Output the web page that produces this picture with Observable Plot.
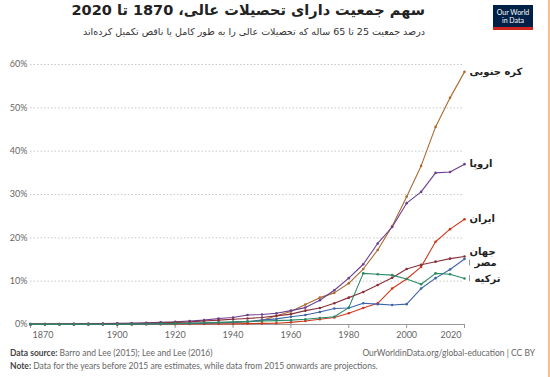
<!DOCTYPE html>
<html><head><meta charset="utf-8">
<script src="https://cdn.jsdelivr.net/npm/d3@7"></script>
<script src="https://cdn.jsdelivr.net/npm/@observablehq/plot@0.6"></script>
<style>
body{margin:0;width:550px;height:377px;background:#fff;position:relative;overflow:hidden;font-family:Lato,"DejaVu Sans",sans-serif;}
#title{position:absolute;top:2px;right:125px;direction:rtl;font-size:14.5px;font-weight:bold;color:#222;white-space:nowrap;font-family:"DejaVu Sans",sans-serif;}
#subtitle{position:absolute;top:26px;right:125px;direction:rtl;font-size:9.5px;color:#333;white-space:nowrap;font-family:"DejaVu Sans",sans-serif;}
#logo{position:absolute;left:493px;top:5px;width:40px;height:22px;background:#002147;border-bottom:3px solid #ce261e;color:#fff;font-size:7px;line-height:8px;text-align:center;box-sizing:content-box;display:flex;align-items:center;justify-content:center;font-family:Lato,sans-serif;}
#chart{position:absolute;top:48px;left:0;}
.foot{position:absolute;font-size:8.5px;color:#666;white-space:nowrap;}
.foot b{color:#444;font-weight:bold;}
#edge{position:absolute;left:548px;top:0;width:2px;height:377px;background:#f5c091;}
</style></head>
<body>
<div id="title">سهم جمعیت دارای تحصیلات عالی، 1870 تا 2020</div>
<div id="subtitle">درصد جمعیت 25 تا 65 ساله که تحصیلات عالی را به طور کامل یا ناقص تکمیل کرده‌اند</div>
<div id="logo">Our World<br>in Data</div>
<div id="chart"></div>
<div class="foot" style="left:10px;top:348px;"><b>Data source:</b> Barro and Lee (2015); Lee and Lee (2016)</div>
<div class="foot" style="right:15px;top:348px;">OurWorldinData.org/global-education | CC BY</div>
<div class="foot" style="left:10px;top:361px;"><b>Note:</b> Data for the years before 2015 are estimates, while data from 2015 onwards are projections.</div>
<div id="edge"></div>
<script>
const years = d3.range(1870, 2021, 5);
const korea  = [0.05,0.05,0.05,0.05,0.05,0.05,0.05,0.08,0.1,0.15,0.2,0.25,0.3,0.4,0.5,0.6,0.9,2.0,3.0,4.6,6.2,7.3,9.5,12.8,17.2,22.7,29.5,36.6,45.6,52.3,58.3];
const europe = [0.1,0.1,0.1,0.15,0.15,0.2,0.25,0.3,0.4,0.5,0.6,0.8,1.0,1.4,1.6,2.2,2.3,2.6,3.2,3.9,5.6,7.9,10.7,13.9,18.7,22.5,28.0,30.6,35.0,35.2,37.0];
const iran   = [0.02,0.02,0.02,0.02,0.02,0.02,0.02,0.03,0.05,0.05,0.08,0.1,0.1,0.15,0.15,0.2,0.25,0.3,0.5,0.8,1.2,1.6,2.6,3.8,4.9,8.3,10.5,13.3,19.1,22.0,24.3];
const world  = [0.1,0.1,0.1,0.12,0.14,0.16,0.2,0.25,0.3,0.4,0.5,0.6,0.8,1.0,1.2,1.4,1.6,2.0,2.4,3.2,3.8,4.9,6.2,7.5,9.1,10.8,12.8,13.8,14.5,15.2,15.7];
const egypt  = [0.03,0.03,0.03,0.03,0.04,0.05,0.05,0.08,0.1,0.15,0.2,0.25,0.3,0.4,0.5,0.7,1.0,1.3,1.8,2.2,2.9,3.7,3.8,4.9,4.7,4.5,4.7,8.3,10.7,12.7,15.1];
const turkey = [0.03,0.03,0.03,0.03,0.04,0.05,0.05,0.08,0.1,0.15,0.2,0.3,0.4,0.5,0.6,0.7,0.8,0.9,1.0,1.2,1.5,1.8,3.9,11.8,11.6,11.4,10.5,9.3,11.8,11.6,10.6];
const names  = ["کره جنوبی","اروپا","ایران","جهان","مصر","ترکیه"];
const colors = ["#ac6a30","#6d3e91","#d0381c","#883039","#3f64a8","#2a8a64"];
const seriesVals = [korea, europe, iran, world, egypt, turkey];
const yTicks = [0,10,20,30,40,50,60];
const xTickYears = [1870,1900,1920,1940,1960,1980,2000,2020];

const data = [];
names.forEach((n,i)=>years.forEach((y,j)=>data.push({name:n, year:y, value:seriesVals[i][j]})));
const last = names.map((n,i)=>({name:n, year:2020, value:seriesVals[i][seriesVals[i].length-1]}));
const midTicks = xTickYears.slice(1,-1);
const lblFont = "'DejaVu Sans', sans-serif";
const egyptLast = last.filter(d=>d.name==="مصر");
const turkeyLast = last.filter(d=>d.name==="ترکیه");
const lblStyle = {x:"year", y:"value", text:"name", textAnchor:"start", fill:"#222", fontWeight:"bold", fontSize:10, fontFamily:lblFont};

const plot = Plot.plot({
  width:550, height:295,
  marginLeft:30, marginRight:86, marginTop:16, marginBottom:19,
  style:{fontFamily:"Lato, 'DejaVu Sans', sans-serif", fontSize:"9px", color:"#666", background:"transparent"},
  x:{type:"linear", domain:[1870,2020], axis:null},
  y:{type:"linear", domain:[0,60], axis:null},
  color:{domain:names, range:colors},
  marks:[
    Plot.gridY(yTicks.slice(1), {stroke:"#c8c8c8", strokeOpacity:1, strokeDasharray:"1.5,2"}),
    Plot.axisY(yTicks, {tickSize:0, tickPadding:3, tickFormat:d=>d+"%", label:null}),
    Plot.ruleY([0], {stroke:"#999"}),
    Plot.axisX(xTickYears, {tickSize:4, tickFormat:()=>"", stroke:"#999", label:null}),
    Plot.text(midTicks, {x:d=>d, y:0, text:d=>String(d), dy:11, fill:"#666", fontSize:9}),
    Plot.text([xTickYears[0]], {x:d=>d, y:0, text:d=>String(d), dy:11, dx:2, textAnchor:"start", fill:"#666", fontSize:9}),
    Plot.text([xTickYears[xTickYears.length-1]], {x:d=>d, y:0, text:d=>String(d), dy:11, dx:-3, textAnchor:"end", fill:"#666", fontSize:9}),
    Plot.line(data, {x:"year", y:"value", z:"name", stroke:"name", strokeWidth:1.1}),
    Plot.dot(data, {x:"year", y:"value", fill:"name", r:1.3}),
    Plot.ruleX(egyptLast, {x:"year", y1:"value", y2:"value", dx:5, dy:4, insetTop:-3, insetBottom:-3, stroke:"#999", strokeWidth:1}),
    Plot.ruleX(turkeyLast, {x:"year", y1:"value", y2:"value", dx:5, insetTop:-3, insetBottom:-3, stroke:"#999", strokeWidth:1}),
    Plot.text(last.filter(d=>!["جهان","مصر","ترکیه"].includes(d.name)), {...lblStyle, dx:5}),
    Plot.text(last.filter(d=>d.name==="جهان"), {...lblStyle, dx:5, dy:-5}),
    Plot.text(egyptLast, {...lblStyle, dx:10, dy:4}),
    Plot.text(turkeyLast, {...lblStyle, dx:10}),
  ]
});
document.getElementById("chart").appendChild(plot);
</script>
</body></html>
